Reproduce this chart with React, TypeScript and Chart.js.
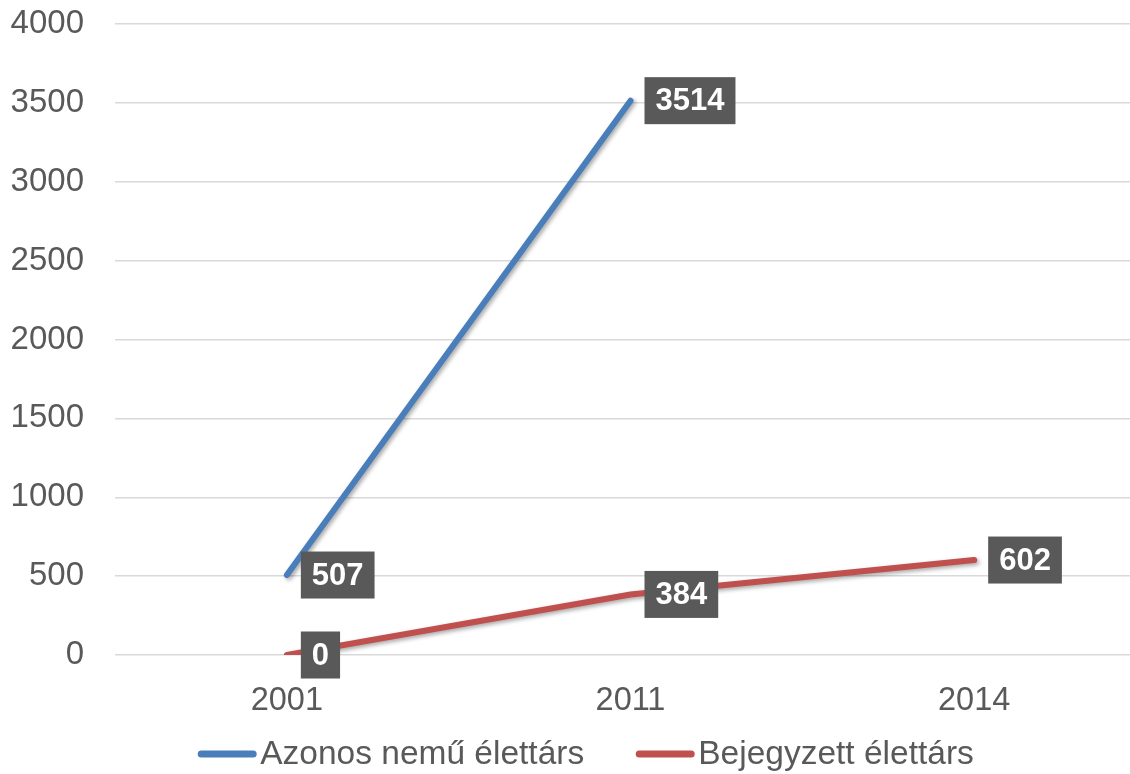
import React, { useEffect, useRef } from "react";
import { Chart, registerables } from "chart.js";

Chart.register(...registerables);

const categories = ["2001", "2011", "2014"];
const seriesNames = ["Azonos nemű élettárs", "Bejegyzett élettárs"];
const azonosValues: (number | null)[] = [507, 3514, null];
const bejegyzettValues: (number | null)[] = [0, 384, 602];
const yTicks = [0, 500, 1000, 1500, 2000, 2500, 3000, 3500, 4000];

const FONT = "'Liberation Sans', Arial, sans-serif";
const TEXT = "#595959";
const BLUE = "#4a7ebb";
const RED = "#c0504d";

const shadowPlugin = {
  id: "lineShadow",
  beforeDatasetDraw(chart: any) {
    const ctx = chart.ctx;
    ctx.save();
    ctx.shadowColor = "rgba(0,0,0,0.35)";
    ctx.shadowBlur = 4;
    ctx.shadowOffsetX = 2;
    ctx.shadowOffsetY = 2;
  },
  afterDatasetDraw(chart: any) {
    chart.ctx.restore();
  },
};

const labelPlugin = {
  id: "boxLabels",
  afterDatasetsDraw(chart: any) {
    const ctx = chart.ctx;
    ctx.save();
    ctx.font = `bold 31px ${FONT}`;
    ctx.textAlign = "center";
    ctx.textBaseline = "middle";
    chart.data.datasets.forEach((ds: any, di: number) => {
      const meta = chart.getDatasetMeta(di);
      meta.data.forEach((pt: any, i: number) => {
        const v = ds.data[i];
        if (v === null || v === undefined) return;
        const text = String(v);
        const tw = ctx.measureText(text).width;
        const w = tw + 22;
        const h = 47;
        const x0 = pt.x + 14;
        const y0 = pt.y - h / 2;
        ctx.fillStyle = "#595959";
        ctx.fillRect(x0, y0, w, h);
        ctx.fillStyle = "#ffffff";
        ctx.fillText(text, x0 + w / 2, pt.y + 1);
      });
    });
    ctx.restore();
  },
};

const legendPlugin = {
  id: "customLegend",
  afterDraw(chart: any) {
    const ctx = chart.ctx;
    ctx.save();
    ctx.font = `33.5px ${FONT}`;
    ctx.textBaseline = "middle";
    ctx.textAlign = "left";
    const marker = 58;
    const gap = 4;
    const spacing = 52;
    const items = chart.data.datasets.map((ds: any) => ({
      text: ds.label,
      color: ds.borderColor,
      w: ctx.measureText(ds.label).width,
    }));
    const total =
      items.reduce((s: number, it: any) => s + marker + gap + it.w, 0) +
      spacing * (items.length - 1);
    let x = 586 - total / 2;
    const y = 755;
    items.forEach((it: any) => {
      ctx.strokeStyle = it.color;
      ctx.lineWidth = 7;
      ctx.lineCap = "round";
      ctx.beginPath();
      ctx.moveTo(x + 3, y - 1);
      ctx.lineTo(x + marker - 3, y - 1);
      ctx.stroke();
      ctx.fillStyle = TEXT;
      ctx.fillText(it.text, x + marker + gap, y);
      x += marker + gap + it.w + spacing;
    });
    ctx.restore();
  },
};

export default function App() {
  const ref = useRef<HTMLCanvasElement>(null);
  useEffect(() => {
    document.body.style.margin = "0";
    document.body.style.overflow = "hidden";
    const chart = new Chart(ref.current!, {
      type: "line",
      data: {
        labels: categories,
        datasets: [
          {
            label: seriesNames[0],
            data: azonosValues,
            borderColor: BLUE,
            backgroundColor: BLUE,
            borderWidth: 6,
            borderCapStyle: "round",
            pointRadius: 0,
            pointHoverRadius: 0,
            tension: 0,
          },
          {
            label: seriesNames[1],
            data: bejegyzettValues,
            borderColor: RED,
            backgroundColor: RED,
            borderWidth: 6,
            borderCapStyle: "round",
            pointRadius: 0,
            pointHoverRadius: 0,
            tension: 0,
          },
        ],
      },
      options: {
        animation: false,
        responsive: false,
        devicePixelRatio: 1,
        layout: { autoPadding: false, padding: { top: 24, left: 0, right: 0, bottom: 64 } },
        plugins: {
          tooltip: { enabled: false },
          legend: { display: false },
        },
        scales: {
          x: {
            offset: true,
            grid: { display: false },
            border: { display: false },
            ticks: {
              font: { family: FONT, size: 32.5 },
              color: TEXT,
              padding: 19,
            },
            afterFit(scale: any) {
              scale.height = 55;
            },
          },
          y: {
            min: 0,
            max: 4000,
            afterBuildTicks(scale: any) {
              scale.ticks = yTicks.map((v) => ({ value: v }));
            },
            grid: { color: "#d9d9d9", lineWidth: 1.5, drawTicks: false },
            border: { display: false },
            ticks: {
              font: { family: FONT, size: 33 },
              color: TEXT,
              padding: 31,
              callback: (v: any) => String(v),
            },
            afterFit(scale: any) {
              scale.width = 115;
              scale.paddingTop = 0;
              scale.paddingBottom = 0;
              if (scale._margins) {
                scale._margins.top = 0;
                scale._margins.bottom = 0;
              }
            },
          },
        },
      },
      plugins: [shadowPlugin, labelPlugin, legendPlugin],
    });
    return () => chart.destroy();
  }, []);
  return (
    <div style={{ width: 1130, height: 774, overflow: "hidden", position: "relative" }}>
      <canvas ref={ref} width={1146} height={774} style={{ display: "block" }} />
    </div>
  );
}
